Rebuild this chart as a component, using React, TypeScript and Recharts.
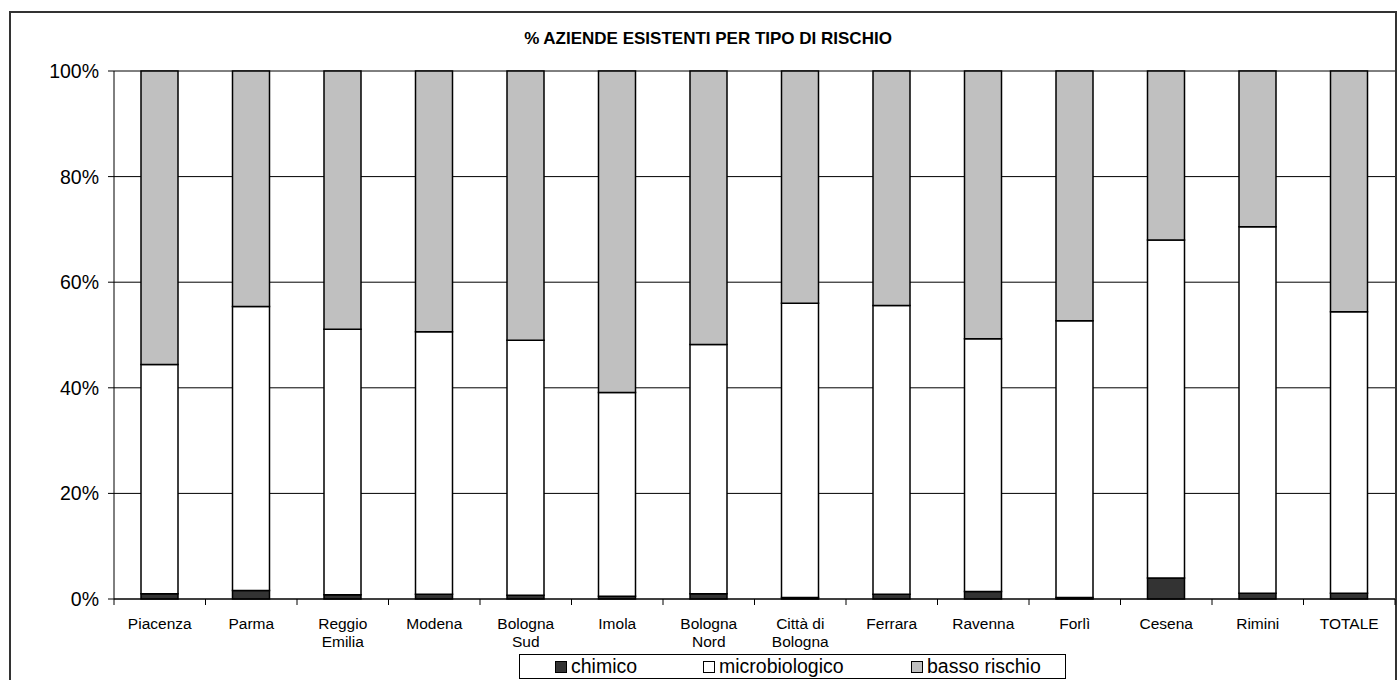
import { Bar, BarChart, CartesianGrid, XAxis, YAxis } from "recharts"

const categories = [
  "Piacenza", "Parma", "Reggio Emilia", "Modena", "Bologna Sud", "Imola", "Bologna Nord",
  "Città di Bologna", "Ferrara", "Ravenna", "Forlì", "Cesena", "Rimini", "TOTALE",
]

// tick labels as Excel wraps them
const tickLabels = [
  ["Piacenza"], ["Parma"], ["Reggio", "Emilia"], ["Modena"], ["Bologna", "Sud"], ["Imola"],
  ["Bologna", "Nord"], ["Città di", "Bologna"], ["Ferrara"], ["Ravenna"], ["Forlì"],
  ["Cesena"], ["Rimini"], ["TOTALE"],
]

// percent shares
const chimico = [1.0, 1.6, 0.8, 0.9, 0.7, 0.5, 1.0, 0.3, 0.9, 1.4, 0.3, 4.0, 1.1, 1.1]
const microbiologico = [43.4, 53.8, 50.3, 49.7, 48.3, 38.6, 47.2, 55.7, 54.7, 47.9, 52.4, 64.0, 69.4, 53.3]
const bassoRischio = [55.6, 44.6, 48.9, 49.4, 51.0, 60.9, 51.8, 44.0, 44.4, 50.7, 47.3, 32.0, 29.5, 45.6]

const yTicks = [0, 20, 40, 60, 80, 100]

const data = categories.map((name, i) => ({
  name,
  chimico: chimico[i],
  microbiologico: microbiologico[i],
  basso: bassoRischio[i],
}))

const FONT = "Arial, 'Liberation Sans', Helvetica, sans-serif"

const series = [
  { key: "chimico", label: "chimico", fill: "#333333" },
  { key: "microbiologico", label: "microbiologico", fill: "#ffffff" },
  { key: "basso", label: "basso rischio", fill: "#c0c0c0" },
]

function CategoryTick(props: any) {
  const { x, y, payload, index, visibleTicksCount } = props
  const half = payload?.offset || 45.75
  const lines = tickLabels[index] || [String(payload.value)]
  return (
    <g>
      <line x1={x - half} x2={x - half} y1={y} y2={y + 6} stroke="#000" />
      {index === visibleTicksCount - 1 && (
        <line x1={x + half} x2={x + half} y1={y} y2={y + 6} stroke="#000" />
      )}
      <text x={x} y={y} textAnchor="middle" fontSize={15.5} fill="#000" fontFamily={FONT}>
        {lines.map((l, i) => (
          <tspan key={i} x={x} dy={i === 0 ? 29.5 : 18.5}>
            {l}
          </tspan>
        ))}
      </text>
    </g>
  )
}

const legendPos = [35, 183, 391]

export default function App() {
  return (
    <div
      style={{
        position: "absolute",
        left: 0,
        top: 0,
        width: 1400,
        height: 680,
        overflow: "hidden",
        background: "#fff",
        fontFamily: FONT,
      }}
    >
      <div
        style={{
          position: "absolute",
          left: 9,
          top: 11,
          width: 1388,
          height: 700,
          border: "2px solid #333",
          boxSizing: "border-box",
        }}
      />
      <div
        style={{
          position: "absolute",
          left: 308,
          top: 29,
          width: 800,
          lineHeight: "20px",
          textAlign: "center",
          fontSize: 17,
          fontWeight: "bold",
          color: "#000",
        }}
      >
        % AZIENDE ESISTENTI PER TIPO DI RISCHIO
      </div>
      <div style={{ position: "absolute", left: 0, top: 0 }}>
        <BarChart
          width={1400}
          height={680}
          data={data}
          margin={{ top: 71, right: 5, left: 0, bottom: 21 }}
          barSize={37}
        >
          <CartesianGrid vertical={false} stroke="#000" strokeWidth={1} />
          <XAxis
            dataKey="name"
            height={60}
            axisLine={{ stroke: "#000" }}
            tickLine={false}
            tickSize={0}
            tickMargin={0}
            interval={0}
            tick={<CategoryTick />}
          />
          <YAxis
            width={114}
            domain={[0, 100]}
            ticks={yTicks}
            tickFormatter={(v) => `${v}%`}
            axisLine={{ stroke: "#000" }}
            tickLine={{ stroke: "#000" }}
            tickSize={6}
            tickMargin={9}
            tick={{ fill: "#000", fontSize: 19.5, fontFamily: FONT }}
          />
          {series.map((s) => (
            <Bar
              key={s.key}
              dataKey={s.key}
              stackId="a"
              fill={s.fill}
              stroke="#000"
              strokeWidth={1.5}
              isAnimationActive={false}
            />
          ))}
        </BarChart>
      </div>
      <div
        style={{
          position: "absolute",
          left: 519,
          top: 654,
          width: 547,
          height: 25,
          border: "1px solid #000",
          boxSizing: "border-box",
          background: "#fff",
        }}
      >
        {series.map((s, i) => (
          <div
            key={s.key}
            style={{
              position: "absolute",
              left: legendPos[i],
              top: 0,
              height: 23,
              display: "flex",
              alignItems: "center",
              fontSize: 19.5,
              color: "#000",
              whiteSpace: "nowrap",
            }}
          >
            <span
              style={{
                display: "inline-block",
                width: 12,
                height: 12,
                boxSizing: "border-box",
                border: "1px solid #000",
                background: s.fill,
                marginRight: 4,
              }}
            />
            {s.label}
          </div>
        ))}
      </div>
    </div>
  )
}
